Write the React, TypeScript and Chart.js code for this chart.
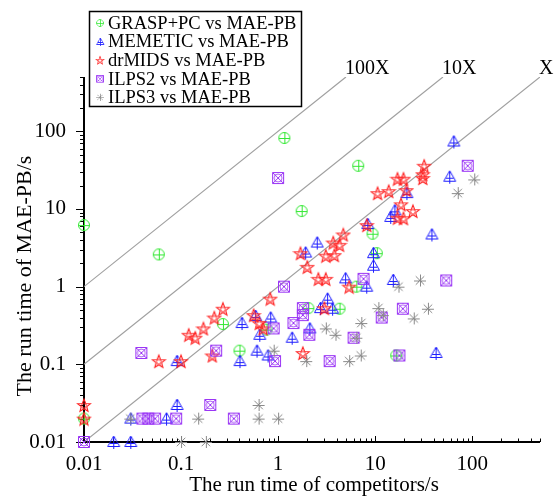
import React, { useEffect, useRef } from 'react';
import { Chart, registerables } from 'chart.js';

Chart.register(...registerables);

// ---------------- data ----------------
const seriesNames = [
  'GRASP+PC vs MAE-PB',
  'MEMETIC vs MAE-PB',
  'drMIDS vs MAE-PB',
  'ILPS2 vs MAE-PB',
  'ILPS3 vs MAE-PB',
];

const graspX = [0.01, 1.16, 6.7, 1.75, 9.4, 0.059, 0.27, 0.4, 0.01, 2.05, 6.4, 4.3, 0.76, 10.4, 16.5];
const graspY = [6.2, 82, 36, 9.4, 4.8, 2.6, 0.33, 0.15, 0.02, 0.53, 1.0, 0.52, 0.28, 2.7, 0.13];

const memeticX = [64, 58, 21, 15.8, 14.3, 8.3, 38, 2.5, 1.9, 4.9, 9.5, 9.5, 15.2, 8.1, 3.2, 2.7, 3.6, 2.1, 1.38, 42, 0.42, 0.58, 0.83, 0.64, 0.6, 0.78, 0.4, 0.09, 0.09, 0.03, 0.07, 0.02, 0.03];
const memeticY = [74, 26, 16, 9.6, 7.9, 6.4, 4.7, 3.7, 2.75, 1.28, 2.7, 1.86, 1.22, 1.0, 0.7, 0.53, 0.52, 0.29, 0.22, 0.14, 0.34, 0.42, 0.4, 0.24, 0.15, 0.13, 0.11, 0.11, 0.03, 0.02, 0.02, 0.01, 0.01];

const drmidsX = [32, 31, 31, 17, 19.6, 10.6, 13.8, 21, 18.5, 24.5, 17, 19.6, 8.2, 4.7, 3.7, 4.3, 1.7, 3.1, 3.8, 2.0, 2.6, 3.1, 5.4, 0.83, 0.27, 0.56, 0.64, 0.7, 1.8, 3.0, 0.01, 0.01, 0.059, 0.1, 0.12, 0.14, 0.17, 0.22, 0.21];
const drmidsY = [36, 28, 25, 24.5, 24.5, 16, 17, 17.5, 11.5, 9.4, 7.7, 7.6, 6.2, 4.7, 3.7, 3.45, 2.7, 2.5, 2.55, 1.8, 1.26, 1.26, 1.0, 0.7, 0.52, 0.43, 0.34, 0.29, 0.14, 0.53, 0.03, 0.02, 0.11, 0.11, 0.24, 0.22, 0.29, 0.4, 0.13];

const ilps2X = [90, 1.0, 1.15, 1.8, 1.8, 1.44, 0.9, 2.1, 0.93, 0.23, 0.039, 0.2, 0.04, 0.046, 0.054, 0.089, 0.35, 0.01, 3.4, 6.0, 7.6, 11.7, 19.3, 17.8, 54];
const ilps2Y = [36, 25, 1.0, 0.53, 0.43, 0.34, 0.29, 0.24, 0.11, 0.15, 0.14, 0.03, 0.02, 0.02, 0.02, 0.02, 0.02, 0.01, 0.11, 0.22, 1.26, 0.4, 0.52, 0.13, 1.2];

const ilps3X = [105, 71, 29, 17.4, 35, 10.8, 12, 25, 7.2, 7.1, 3.1, 3.9, 6.4, 1.95, 5.4, 0.9, 0.15, 0.63, 0.63, 1.0, 0.1, 0.18, 0.03];
const ilps3Y = [24, 16, 1.2, 1.0, 0.52, 0.53, 0.43, 0.39, 0.34, 0.13, 0.29, 0.24, 0.22, 0.11, 0.11, 0.15, 0.02, 0.03, 0.02, 0.02, 0.01, 0.01, 0.02];

const majorTicks = [0.01, 0.1, 1, 10, 100];
const tickLabels = ['0.01', '0.1', '1', '10', '100'];
const axisMin = 0.01;
const axisMax = 500;

const refFactors = [1, 10, 100];
const refNames = ['X', '10X', '100X'];

const xTitle = 'The run time of competitors/s';
const yTitle = 'The run time of MAE-PB/s';

// ---------------- styles ----------------
const colors = ['#33e833', '#1f1fff', '#ff2020', '#9a35f5', '#8a8a8a'];
const kinds = ['circlePlus', 'triPlus', 'star', 'boxX', 'asterisk'];
const drawOrder = [5, 4, 3, 2, 1];
const FONT = '"Liberation Serif", "Times New Roman", serif';

function makeMarker(kind: string, color: string, size = 16) {
  const c = document.createElement('canvas');
  c.width = size;
  c.height = size;
  const g = c.getContext('2d')!;
  g.translate(size / 2, size / 2);
  g.strokeStyle = color;
  g.lineWidth = 1;
  g.beginPath();
  if (kind === 'circlePlus') {
    g.arc(0, 0, 5.5, 0, Math.PI * 2);
    g.moveTo(-5.5, 0.5); g.lineTo(5.5, 0.5);
    g.moveTo(0.5, -5.5); g.lineTo(0.5, 5.5);
  } else if (kind === 'triPlus') {
    g.moveTo(0.5, -6); g.lineTo(6.5, 4.5); g.lineTo(-5.5, 4.5); g.closePath();
    g.moveTo(0.5, -6); g.lineTo(0.5, 7);
    g.moveTo(-3.5, 1.5); g.lineTo(4.5, 1.5);
  } else if (kind === 'star') {
    g.lineWidth = 1.1;
    for (let i = 0; i < 10; i++) {
      const r = i % 2 === 0 ? 6.8 : 2.9;
      const a = -Math.PI / 2 + (i * Math.PI) / 5;
      const px = r * Math.cos(a), py = r * Math.sin(a) + 0.8;
      if (i === 0) g.moveTo(px, py); else g.lineTo(px, py);
    }
    g.closePath();
    g.stroke();
    g.beginPath();
    g.globalAlpha = 0.6;
    g.lineWidth = 1;
    for (let i = 0; i < 10; i++) {
      const r = i % 2 === 0 ? 3.2 : 1.5;
      const a = -Math.PI / 2 + (i * Math.PI) / 5;
      const px = r * Math.cos(a), py = r * Math.sin(a) + 0.8;
      if (i === 0) g.moveTo(px, py); else g.lineTo(px, py);
    }
    g.closePath();
  } else if (kind === 'boxX') {
    g.rect(-5.5, -5.5, 11, 11);
    g.moveTo(-5.5, -5.5); g.lineTo(5.5, 5.5);
    g.moveTo(5.5, -5.5); g.lineTo(-5.5, 5.5);
    g.stroke();
    g.beginPath();
    g.globalAlpha = 0.8;
    g.arc(0, 0, 4, 0, Math.PI * 2);
  } else {
    const r = 6;
    const d = r * 0.707;
    g.moveTo(-r, 0.5); g.lineTo(r, 0.5);
    g.moveTo(0.5, -r); g.lineTo(0.5, r);
    g.moveTo(-d, -d); g.lineTo(d, d);
    g.moveTo(d, -d); g.lineTo(-d, d);
  }
  g.stroke();
  return c;
}

export default function App() {
  const ref = useRef<HTMLCanvasElement | null>(null);

  useEffect(() => {
    if (!ref.current) return;
    const markers = kinds.map((k, i) => makeMarker(k, colors[i]));
    const xs = [graspX, memeticX, drmidsX, ilps2X, ilps3X];
    const ys = [graspY, memeticY, drmidsY, ilps2Y, ilps3Y];

    const scatterSets = seriesNames.map((name, i) => ({
      type: 'scatter' as const,
      label: name,
      data: xs[i].map((x, j) => ({ x, y: ys[i][j] })),
      pointStyle: markers[i],
      pointRadius: 6,
      order: drawOrder[i],
      clip: false,
    }));

    const lineSets = refFactors.map((f, i) => ({
      type: 'line' as const,
      label: refNames[i],
      data: [
        { x: axisMin, y: axisMin * f },
        { x: axisMax / f, y: axisMax },
      ],
      borderColor: '#a0a0a0',
      borderWidth: 1.2,
      pointRadius: 0,
      fill: false,
      order: 10,
    }));

    const decor = {
      id: 'decor',
      beforeDatasetsDraw(chart: any) {
        const { ctx, chartArea: a, scales } = chart;
        const x = scales.x, y = scales.y;
        ctx.save();
        ctx.strokeStyle = '#000';
        ctx.lineWidth = 1;
        ctx.beginPath();
        for (let d = -2; d <= 2; d++) {
          for (let m = 1; m <= 9; m++) {
            const v = m * Math.pow(10, d);
            if (v > axisMax + 1e-9) break;
            const xp = Math.round(x.getPixelForValue(v)) + 0.5;
            const xl = m === 1 ? 6 : 3.5;
            ctx.moveTo(xp, a.bottom);
            ctx.lineTo(xp, a.bottom - xl);
            const yp = Math.round(y.getPixelForValue(v)) + 0.5;
            const yl = m === 1 ? 8 : 4;
            ctx.moveTo(a.left, yp);
            ctx.lineTo(a.left - yl, yp);
          }
        }
        ctx.stroke();
        ctx.lineWidth = 2;
        ctx.beginPath();
        ctx.moveTo(a.left, a.top);
        ctx.lineTo(a.left, a.bottom);
        ctx.lineTo(a.right, a.bottom);
        ctx.stroke();
        ctx.restore();
      },
      afterDraw(chart: any) {
        const { ctx, chartArea: a, scales } = chart;
        const x = scales.x;
        ctx.save();
        // reference line labels
        ctx.fillStyle = '#000';
        ctx.font = `20px ${FONT}`;
        ctx.textAlign = 'left';
        ctx.textBaseline = 'alphabetic';
        refFactors.forEach((f, i) => {
          const px = x.getPixelForValue(axisMax / f);
          ctx.fillText(refNames[i], px - 1, a.top - 3);
        });
        // axis titles
        ctx.font = `21px ${FONT}`;
        ctx.textAlign = 'center';
        ctx.textBaseline = 'middle';
        ctx.fillText(xTitle, (a.left + a.right) / 2 + 2, 485);
        ctx.save();
        ctx.font = `22px ${FONT}`;
        ctx.translate(25, 276);
        ctx.rotate(-Math.PI / 2);
        ctx.fillText(yTitle, 0, 0);
        ctx.restore();
        // legend
        const lx = 89.5, ly = 11.5, lw = 212, lh = 95;
        ctx.fillStyle = '#fff';
        ctx.fillRect(lx, ly, lw, lh);
        ctx.strokeStyle = '#000';
        ctx.lineWidth = 1.5;
        ctx.strokeRect(lx, ly, lw, lh);
        ctx.fillStyle = '#000';
        ctx.font = `18.5px ${FONT}`;
        ctx.textAlign = 'left';
        ctx.textBaseline = 'middle';
        seriesNames.forEach((name, i) => {
          const cy = 23 + i * 18.6;
          ctx.drawImage(markers[i], 95, cy - 5, 10, 10);
          ctx.fillText(name, 108, cy + 1);
        });
        ctx.restore();
      },
    };

    const tickFont = { family: FONT, size: 21 };

    const chart = new Chart(ref.current, {
      type: 'scatter',
      data: { datasets: [...scatterSets, ...lineSets] as any },
      options: {
        responsive: false,
        animation: false,
        devicePixelRatio: 1,
        layout: { padding: { top: 77, right: 14, left: 0, bottom: 0 } },
        plugins: {
          legend: { display: false },
          tooltip: { enabled: false },
        },
        scales: {
          x: {
            type: 'logarithmic',
            min: axisMin,
            max: axisMax,
            grid: { display: false },
            border: { display: false },
            afterBuildTicks: (s: any) => {
              s.ticks = majorTicks.map((v) => ({ value: v }));
            },
            afterFit: (s: any) => {
              s.height = 58;
            },
            ticks: {
              autoSkip: false,
              maxRotation: 0,
              padding: 2,
              color: '#000',
              font: tickFont,
              callback: (_v: any, i: number) => tickLabels[i],
            },
          },
          y: {
            type: 'logarithmic',
            min: axisMin,
            max: axisMax,
            grid: { display: false },
            border: { display: false },
            afterBuildTicks: (s: any) => {
              s.ticks = majorTicks.map((v) => ({ value: v }));
            },
            afterFit: (s: any) => {
              s.width = 84;
            },
            ticks: {
              autoSkip: false,
              padding: 10,
              color: '#000',
              font: tickFont,
              callback: (_v: any, i: number) => tickLabels[i],
            },
          },
        },
      },
      plugins: [decor],
    });

    return () => chart.destroy();
  }, []);

  return (
    <div style={{ position: 'absolute', left: 0, top: 0, width: 554, height: 500, background: '#fff' }}>
      <canvas ref={ref} width={554} height={500} />
    </div>
  );
}
